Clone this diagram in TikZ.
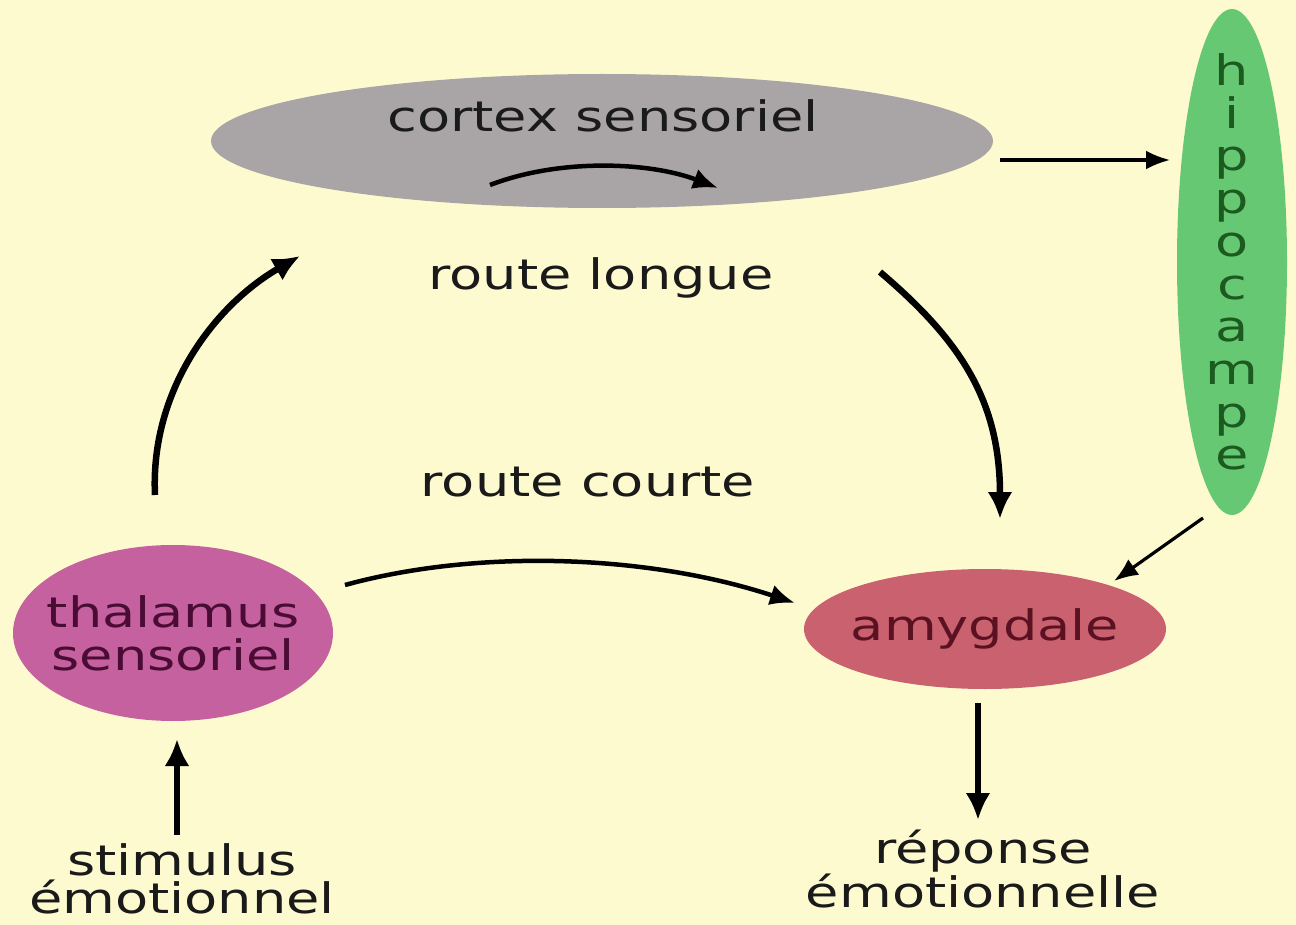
\documentclass[tikz,border=0pt]{standalone}
\usepackage{fontspec}
\setmainfont{DejaVu Sans}[FakeStretch=1.29]
\usetikzlibrary{shapes.geometric,arrows.meta}
\definecolor{bg}{HTML}{FEFAD0}
\definecolor{cortexc}{HTML}{A9A5A6}
\definecolor{hippoc}{HTML}{67C874}
\definecolor{thalc}{HTML}{C4619E}
\definecolor{amygc}{HTML}{C9616F}
\definecolor{txt}{HTML}{1A1A1A}
\definecolor{hippotxt}{HTML}{1C5A20}
\definecolor{thaltxt}{HTML}{4A0C34}
\definecolor{amygtxt}{HTML}{5A1222}
\begin{document}
\begin{tikzpicture}[x=1pt,y=-1pt,
  ell/.style={ellipse, inner sep=0pt, draw=none},
  lbl/.style={font=\fontsize{42}{41}\selectfont, inner sep=0pt, text=txt, align=center},
  bigarrow/.style={line width=6.5pt, -{Latex[length=27pt,width=25pt]}},
  midarrow/.style={line width=4.5pt, -{Latex[length=25pt,width=21pt]}},
  thinarrow/.style={line width=3.2pt, -{Latex[length=24pt,width=19pt]}}]
\fill[bg] (0,0) rectangle (1296,925);
\useasboundingbox (0,0) rectangle (1296,925);

% nodes
\node[ell, fill=cortexc, minimum width=782pt, minimum height=134pt] (cortex) at (602,141) {};
\node[lbl, anchor=base] (cortexlbl) at (603,132) {cortex sensoriel};
\node[ell, fill=hippoc, minimum width=110pt, minimum height=506pt, inner ysep=-45pt, inner xsep=-5pt,
      font=\fontsize{42}{42.7}\selectfont, text=hippotxt, align=center] (hippo) at (1232,262)
      {h\\i\\p\\p\\o\\c\\a\\m\\p\\e};
\node[ell, fill=thalc, minimum width=320pt, minimum height=176pt, inner xsep=-16pt, inner ysep=-5pt,
      font=\fontsize{42}{43}\selectfont, text=thaltxt, align=center] (thal) at (173,633)
      {thalamus\\sensoriel};
\node[ell, fill=amygc, minimum width=362pt, minimum height=120pt, inner xsep=-12pt, inner ysep=0pt,
      font=\fontsize{42}{41}\selectfont, text=amygtxt] (amyg) at (985,629) {amygdale};
\node[lbl, anchor=base] (longue) at (601,290) {route longue};
\node[lbl, anchor=base] (courte) at (588,496) {route courte};
\node[lbl, font=\fontsize{42}{38}\selectfont] (stim) at (182,879) {stimulus\\émotionnel};
\node[lbl] (rep) at (983,869) {réponse\\émotionnelle};

% free ends
\coordinate (c1) at (490,185);
\coordinate (c2) at (718,188);
\coordinate (t1) at (155,495);
\coordinate (t2) at (300,256);
\coordinate (l1) at (880,272);
\coordinate (l2) at (1000,519);
\coordinate (s1) at (345,585);
\coordinate (s2) at (795,603);
\coordinate (h1) at (1000,160);
\coordinate (h2) at (1170,160);
\coordinate (k1) at (1203,518);
\coordinate (k2) at (1114,581);
\coordinate (r1) at (978,703);
\coordinate (r2) at (978,820);
\coordinate (m1) at (177,835);
\coordinate (m2) at (177,739);

% connectors
\draw[midarrow] (c1) .. controls (560,158) and (650,162) .. (c2);
\draw[bigarrow] (t1) .. controls (150,390) and (215,305) .. (t2);
\draw[bigarrow] (l1) .. controls (960,340) and (1000,400) .. (l2);
\draw[midarrow] (s1) .. controls (480,548) and (650,555) .. (s2);
\draw[thinarrow] (h1) -- (h2);
\draw[thinarrow] (k1) -- (k2);
\draw[bigarrow] (r1) -- (r2);
\draw[bigarrow] (m1) -- (m2);
\end{tikzpicture}
\end{document}
